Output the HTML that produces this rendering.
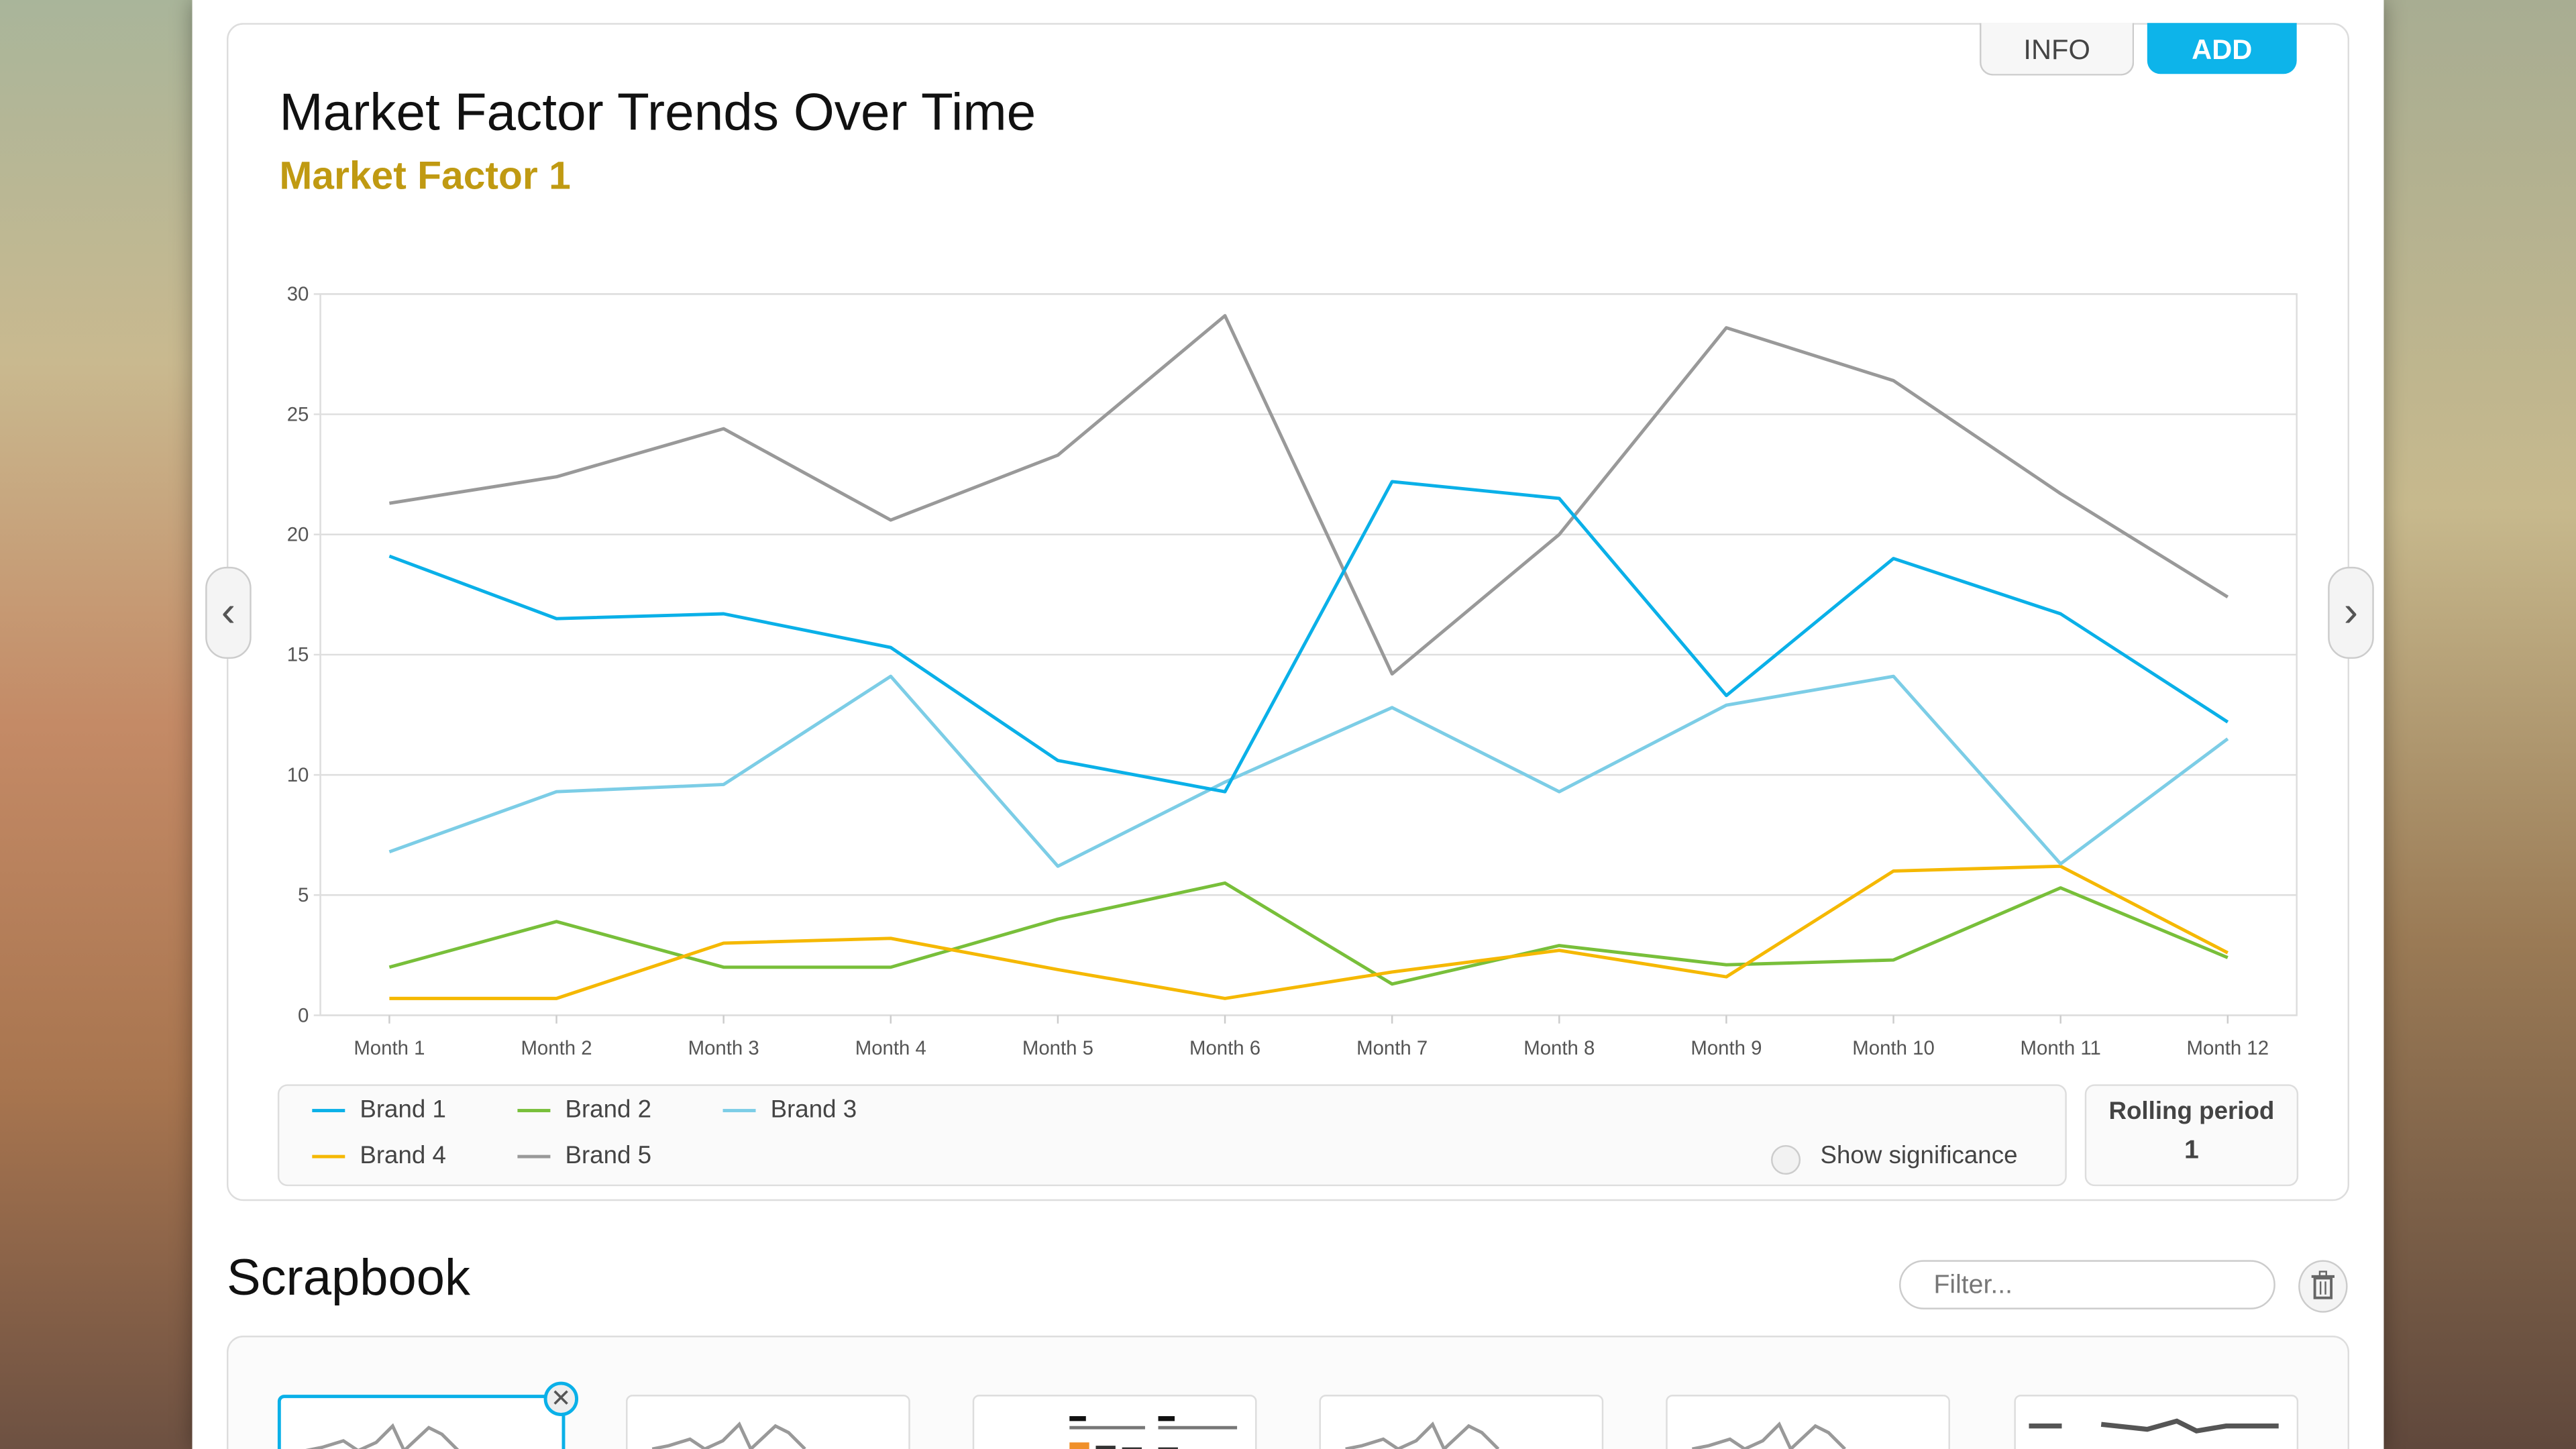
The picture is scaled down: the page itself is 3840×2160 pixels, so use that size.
<!DOCTYPE html>
<html><head><meta charset="utf-8">
<style>
html,body{margin:0;padding:0;width:3840px;height:2160px;overflow:hidden;}
body{font-family:"Liberation Sans",sans-serif;}
#stage{position:absolute;left:0;top:0;width:1568px;height:882px;transform:scale(2.44898);transform-origin:0 0;
background:linear-gradient(180deg,#a9b59a 0%,#c9b98f 25%,#c48a66 50%,#a8754f 75%,#6d5142 100%);overflow:hidden;}
#rightbg{position:absolute;left:1451px;top:0;width:117px;height:882px;background:linear-gradient(180deg,#a8ad92 0%,#c7b98d 35%,#9a7a55 65%,#60483c 100%);}
#page{position:absolute;left:117px;top:0;width:1334px;height:882px;background:#fff;box-shadow:0 0 12px rgba(0,0,0,.35);}
.abs{position:absolute;}
.card{position:absolute;left:21px;top:14px;width:1290px;height:715px;border:1px solid #ddd;border-radius:10px;background:#fff;}
.btn{position:absolute;top:14px;height:31px;border-radius:0 0 8px 8px;font-size:17px;text-align:center;line-height:33px;}
</style></head>
<body>
<div id="stage">
<div id="rightbg"></div>
<div id="page">
  <div class="card"></div>
  <div class="btn" style="left:1088px;width:92px;border:1px solid #ccc;border-top:none;background:#f7f7f7;color:#444;">INFO</div>
  <div class="btn" style="left:1190px;width:91px;background:#0db4ea;color:#fff;font-weight:bold;">ADD</div>
  <div class="abs" style="left:53px;top:50px;font-size:32px;color:#111;font-weight:300;">Market Factor Trends Over Time</div>
  <div class="abs" style="left:53px;top:94px;font-size:24px;color:#c09a12;font-weight:bold;">Market Factor 1</div>
  <div class="abs" style="left:8px;top:345px;width:26px;height:54px;border:1px solid #ccc;border-radius:13px;background:#f4f4f4;color:#555;font-size:26px;line-height:52px;text-align:center;">‹</div>
  <div class="abs" style="left:1300px;top:345px;width:26px;height:54px;border:1px solid #ccc;border-radius:13px;background:#f4f4f4;color:#555;font-size:26px;line-height:52px;text-align:center;">›</div>
  <svg id="chart" class="abs" style="left:0;top:0;" width="1334" height="660"></svg>
  <div class="abs" style="left:52px;top:660px;width:1087px;height:60px;border:1px solid #ddd;border-radius:6px;background:#fafafa;"></div>
  <div id="legend"></div>
  <div class="abs" style="left:961px;top:697px;width:16px;height:16px;border:1px solid #ccc;border-radius:50%;background:#f2f2f2;"></div>
  <div class="abs" style="left:991px;top:695px;font-size:15px;color:#444;">Show significance</div>
  <div class="abs" style="left:1152px;top:660px;width:128px;height:60px;border:1px solid #ddd;border-radius:6px;background:#fafafa;text-align:center;color:#444;"><div style="font-size:15px;margin-top:7px;font-weight:bold;">Rolling period</div><div style="font-size:16px;margin-top:7px;font-weight:bold;">1</div></div>
  <div class="abs" style="left:21px;top:760px;font-size:31px;color:#111;font-weight:300;">Scrapbook</div>
  <div class="abs" style="left:1039px;top:767px;width:227px;height:30px;border:1px solid #ccc;border-radius:16px;background:#fff;font-size:16px;color:#777;line-height:30px;padding-left:20px;box-sizing:border-box;width:229px;">Filter...</div>
  <div class="abs" style="left:1282px;top:767px;width:28px;height:30px;border:1px solid #ccc;border-radius:50%;background:#f4f4f4;">
    <svg width="28" height="30"><rect x="9" y="10" width="10" height="12" fill="none" stroke="#666" stroke-width="1.6"/><line x1="7" y1="9" x2="21" y2="9" stroke="#666" stroke-width="1.6"/><rect x="12" y="6" width="4" height="3" fill="none" stroke="#666"/><line x1="12.5" y1="12" x2="12.5" y2="20" stroke="#666"/><line x1="15.5" y1="12" x2="15.5" y2="20" stroke="#666"/></svg>
  </div>
  <div class="abs" style="left:21px;top:813px;width:1290px;height:80px;border:1px solid #ddd;border-radius:10px;background:#fbfbfb;"></div>
  <div id="thumbs"></div>
</div>
</div>
<script>
const months=["Month 1","Month 2","Month 3","Month 4","Month 5","Month 6","Month 7","Month 8","Month 9","Month 10","Month 11","Month 12"];
const yTicks=[0,5,10,15,20,25,30];
const brand1=[19.1,16.5,16.7,15.3,10.6,9.3,22.2,21.5,13.3,19.0,16.7,12.2];
const brand2=[2.0,3.9,2.0,2.0,4.0,5.5,1.3,2.9,2.1,2.3,5.3,2.4];
const brand3=[6.8,9.3,9.6,14.1,6.2,9.7,12.8,9.3,12.9,14.1,6.3,11.5];
const brand4=[0.7,0.7,3.0,3.2,1.9,0.7,1.8,2.7,1.6,6.0,6.2,2.6];
const brand5=[21.3,22.4,24.4,20.6,23.3,29.1,14.2,20.0,28.6,26.4,21.7,17.4];
const seriesNames=["Brand 1","Brand 2","Brand 3","Brand 4","Brand 5"];
const seriesColors=["#0ab0e8","#78bf3a","#7ccde6","#f5b800","#999999"];
const seriesData=[brand1,brand2,brand3,brand4,brand5];
const NS="http://www.w3.org/2000/svg";
const svg=document.getElementById('chart');
const X0=78,X1=1281,Y0=618,Y1=179,YMAX=30;
const xs=i=>120+i*(1239-120)/(months.length-1);
const ys=v=>Y0-(v/YMAX)*(Y0-Y1);
function mk(t,a){const e=document.createElementNS(NS,t);for(const k in a)e.setAttribute(k,a[k]);svg.appendChild(e);return e;}
const frame=mk('rect',{x:X0,y:Y1,width:X1-X0,height:Y0-Y1,fill:'none',stroke:'#ddd'});


yTicks.forEach(v=>{
  const l=mk('line',{x1:X0-4,x2:X1,y1:ys(v),y2:ys(v),stroke:'#dedede'});
  
  
  const t=mk('text',{x:X0-7,y:ys(v)+4,'text-anchor':'end','font-size':12,fill:'#555'});
  t.textContent=v;
  
  
});
months.forEach((m,i)=>{
  const l=mk('line',{x1:xs(i),x2:xs(i),y1:Y0,y2:Y0+5,stroke:'#ccc'});
  
  
  const t=mk('text',{x:xs(i),y:Y0+24,'text-anchor':'middle','font-size':12,fill:'#555'});
  t.textContent=m;
  
  
});
[4,1,3,2,0].forEach(s=>{
  const p=mk('polyline',{points:seriesData[s].map((v,i)=>xs(i)+','+ys(v)).join(' '),fill:'none',stroke:seriesColors[s],'stroke-width':2,'stroke-linejoin':'round'});
  
  
});
const leg=document.getElementById('legend');
const legPos=[[73,667],[198,667],[323,667],[73,695],[198,695]];
seriesNames.forEach((n,i)=>{
  const d=document.createElement('div');
  d.className='abs';
  d.style.cssText='left:'+legPos[i][0]+'px;top:'+legPos[i][1]+'px;font-size:15px;color:#444;white-space:nowrap;';
  d.innerHTML='<span style="display:inline-block;width:20px;height:2px;background:'+seriesColors[i]+';vertical-align:middle;margin-right:9px;"></span>'+n;
  
  
  leg.appendChild(d);
});
const th=document.getElementById('thumbs');
const thumbX=[52,264,475,686,897,1109];
thumbX.forEach((x,k)=>{
  const d=document.createElement('div');
  d.className='abs';
  d.style.cssText='left:'+x+'px;top:849px;width:171px;height:50px;border:'+(k==0?'2px solid #0ab0e8':'1px solid #ddd')+';border-radius:4px;background:#fff;overflow:hidden;';
  let inner='';
  if(k==2){inner='<svg width="171" height="40"><rect x="58" y="12" width="10" height="3" fill="#111"/><rect x="112" y="12" width="10" height="3" fill="#111"/><line x1="58" y1="19" x2="104" y2="19" stroke="#777" stroke-width="2"/><line x1="112" y1="19" x2="160" y2="19" stroke="#777" stroke-width="2"/><rect x="58" y="28" width="12" height="12" fill="#f0902a"/><rect x="74" y="30" width="12" height="10" fill="#333"/><rect x="90" y="31" width="12" height="10" fill="#333"/><rect x="112" y="31" width="12" height="10" fill="#333"/></svg>';}
  else if(k==5){inner='<svg width="171" height="40"><line x1="8" y1="18" x2="28" y2="18" stroke="#555" stroke-width="3"/><polyline points="52,17 80,20 98,15 110,21 128,18 160,18" fill="none" stroke="#555" stroke-width="3"/></svg>';}
  else {inner='<svg width="171" height="40"><polyline points="15,32 25,30 38,26 47,32 58,27 68,17 75,32 90,18 98,22 108,32" fill="none" stroke="#999" stroke-width="2"/></svg>';}
  d.innerHTML=inner;
  
  
  th.appendChild(d);
});
const cx=document.createElement('div');
cx.className='abs';
cx.style.cssText='left:214px;top:841px;width:17px;height:17px;border:2px solid #0ab0e8;border-radius:50%;background:#eee;color:#555;font-size:15px;line-height:17px;text-align:center;';
cx.textContent='✕';


th.appendChild(cx);
</script>
</body></html>
